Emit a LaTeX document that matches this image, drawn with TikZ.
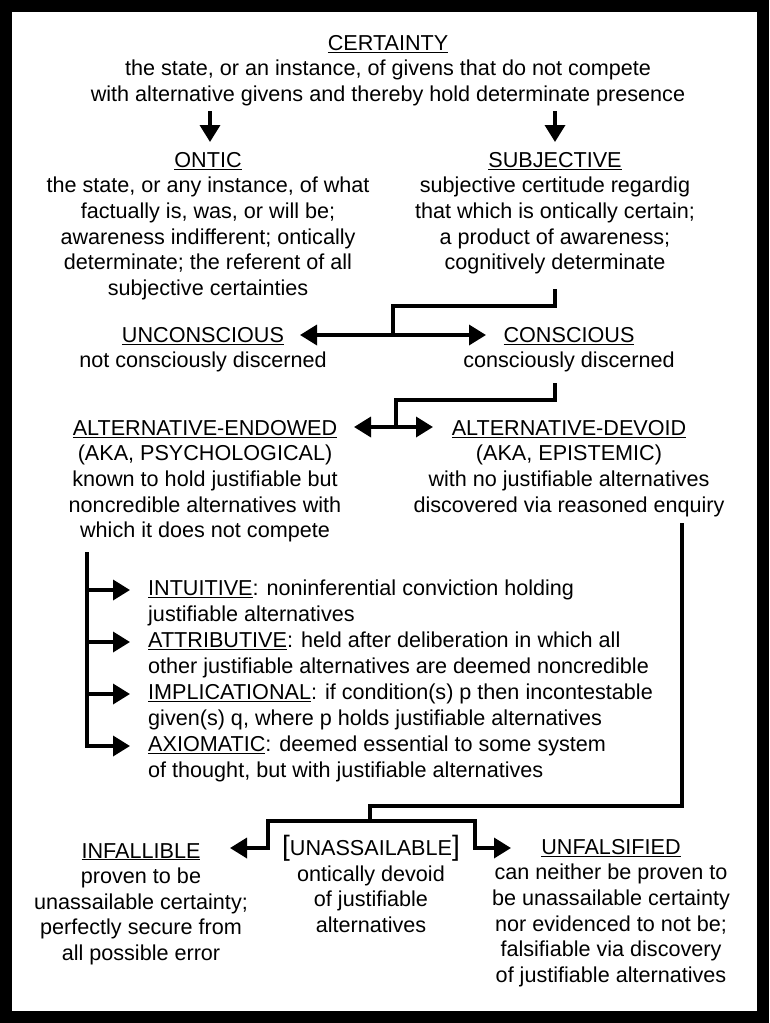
\documentclass[tikz,border=0pt]{standalone}
\usepackage{fontspec}
\setmainfont{Liberation Sans}
\usetikzlibrary{arrows.meta}

\begin{document}
\begin{tikzpicture}[
    x=1pt, y=-1pt,
    txt/.style={align=center, anchor=north, inner sep=0pt,
                font=\fontsize{21.6}{25.6}\selectfont},
    ltxt/.style={align=left, anchor=north west, inner sep=0pt,
                font=\fontsize{21.6}{25.9}\selectfont},
    arrow/.style={-{Triangle[length=17pt,width=20pt]}, line width=3.5pt},
    dblarrow/.style={{Triangle[length=17pt,width=20pt]}-{Triangle[length=17pt,width=20pt]}, line width=3.5pt},
    line/.style={line width=3.5pt}
]
\useasboundingbox (0,0) rectangle (769,1023);
\fill[white] (0,0) rectangle (769,1023);
\draw[line width=12pt] (6,6) rectangle (763,1017);

\node[txt] (certainty) at (388,35) {\underline{CERTAINTY}\\the state, or an instance, of givens that do not compete\\with alternative givens and thereby hold determinate presence};
\node[txt] (ontic) at (208,152) {\underline{ONTIC}\\the state, or any instance, of what\\factually is, was, or will be;\\awareness indifferent; ontically\\determinate; the referent of all\\subjective certainties};
\node[txt] (subjective) at (555,152) {\underline{SUBJECTIVE}\\subjective certitude regardig\\that which is ontically certain;\\a product of awareness;\\cognitively determinate};
\node[txt] (unconscious) at (203,327) {\underline{UNCONSCIOUS}\\not consciously discerned};
\node[txt] (conscious) at (569,327) {\underline{CONSCIOUS}\\consciously discerned};
\node[txt] (endowed) at (205,420) {\underline{ALTERNATIVE-ENDOWED}\\(AKA, PSYCHOLOGICAL)\\known to hold justifiable but\\noncredible alternatives with\\which it does not compete};
\node[txt] (devoid) at (569,420) {\underline{ALTERNATIVE-DEVOID}\\(AKA, EPISTEMIC)\\with no justifiable alternatives\\discovered via reasoned enquiry};
\node[ltxt] (kinds) at (148,580) {\underline{INTUITIVE}: noninferential conviction holding\\justifiable alternatives\\\underline{ATTRIBUTIVE}: held after deliberation in which all\\other justifiable alternatives are deemed noncredible\\\underline{IMPLICATIONAL}: if condition(s) p then incontestable\\given(s) q, where p holds justifiable alternatives\\\underline{AXIOMATIC}: deemed essential to some system\\of thought, but with justifiable alternatives};
\node[txt] (infallible) at (141,843) {\underline{INFALLIBLE}\\proven to be\\unassailable certainty;\\perfectly secure from\\all possible error};
\node[txt] (unassailable) at (371,835) {{\fontsize{28}{26}\selectfont[}UNASSAILABLE{\fontsize{28}{26}\selectfont]}\\ontically devoid\\of justifiable\\alternatives};
\node[txt] (unfalsified) at (611,839) {\underline{UNFALSIFIED}\\can neither be proven to\\be unassailable certainty\\nor evidenced to not be;\\falsifiable via discovery\\of justifiable alternatives};

% top split
\draw[arrow] (210,111) -- (210,142);
\draw[arrow] (555,111) -- (555,142);

% subjective -> conscious / unconscious
\coordinate (s1) at (555,289);
\coordinate (s2) at (393,335);
\draw[line] (s1) -- (555,306) -| (s2);
\draw[dblarrow] (300,335) -- (486,335);

% conscious -> endowed / devoid
\coordinate (c1) at (555,383);
\coordinate (c2) at (396,427);
\draw[line] (c1) -- (555,400) -| (c2);
\draw[dblarrow] (354,427) -- (433,427);

% endowed -> kinds
\coordinate (e1) at (87,552);
\draw[line] (e1) -- (87,747);
\foreach \y in {590,642,694,746}
    \draw[arrow] (85.25,\y) -- (130,\y);

% devoid -> infallible / unfalsified
\coordinate (d1) at (682,523);
\draw[line] (d1) -- (682,806) -- (370,806) -- (370,821);
\draw[arrow] (268,819.25) -- (268,848) -- (230,848);
\draw[arrow] (266.25,821) -- (475,821) -- (475,848) -- (511,848);
\end{tikzpicture}
\end{document}
